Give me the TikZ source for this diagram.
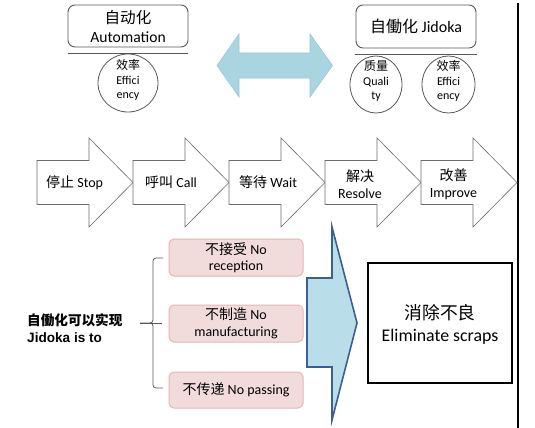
\documentclass[tikz,border=0pt]{standalone}
\usepackage{fontspec}
\setmainfont{Carlito}
\newfontfamily\cjk{Noto Sans CJK SC}
\newfontfamily\arialb{Liberation Sans}
\usetikzlibrary{shapes.geometric}
\newcommand{\zh}[1]{{\cjk #1}}
\definecolor{dblue}{HTML}{A9D5E1}
\definecolor{dblueline}{HTML}{98C8D6}
\definecolor{bigfill}{HTML}{B9DDE9}
\definecolor{bigline}{HTML}{3B6090}
\definecolor{pinkfill}{HTML}{F2DCDB}
\definecolor{pinkline}{HTML}{E2B6B5}
\definecolor{grayline}{HTML}{595959}
\begin{document}
\begin{tikzpicture}[x=1pt,y=-1pt,
  topbox/.style={draw=grayline, line width=0.9pt, rounded corners=7pt, inner sep=0pt, align=center},
  oval/.style={draw=grayline, line width=0.8pt, ellipse, inner sep=0pt},
  ovaltext/.style={align=center, inner sep=0pt, font=\fontsize{12}{14.5}\selectfont},
  blockarrow/.style={draw=gray!85!black, line width=0.6pt, fill=white},
  arrowtext/.style={inner sep=0pt, font=\fontsize{14}{17}\selectfont, align=center},
  pinkbox/.style={draw=pinkline, fill=pinkfill, line width=1pt, rounded corners=5pt, minimum width=134pt, inner sep=0pt, align=center, font=\fontsize{14}{16.5}\selectfont}
]
\useasboundingbox (0,0) rectangle (535,428);
\fill[white] (0,0) rectangle (535,428);

% top boxes
\node[topbox, minimum width=120pt, minimum height=42pt, font=\fontsize{15.6}{19}\selectfont] (auto) at (128,26) {\zh{自动化}\\Automation};
\node[topbox, minimum width=120pt, minimum height=43pt, font=\fontsize{16}{19}\selectfont] (jidoka) at (416,26.5) {\zh{自働化} Jidoka};
\draw[grayline, line width=0.9pt] (auto.south west) ++(0,6) coordinate (la) -- (auto.south east |- la);
\draw[grayline, line width=0.9pt] (jidoka.south west) ++(-1,6) coordinate (lb) -- ([xshift=1pt]jidoka.south east |- lb);

% ellipses
\node[oval, minimum width=60pt, minimum height=58pt] (eff1) at (128,83) {};
\node[ovaltext] (eff1t) at (128,80) {\zh{效率}\\Effici\\ency};
\node[oval, minimum width=52pt, minimum height=57pt] (qual) at (376,84.5) {};
\node[ovaltext] (qualt) at (376,81) {\zh{质量}\\Quali\\ty};
\node[oval, minimum width=53pt, minimum height=57pt] (eff2) at (448.5,84.5) {};
\node[ovaltext] (eff2t) at (448.5,81) {\zh{效率}\\Effici\\ency};

% double arrow
\filldraw[fill=dblue, draw=dblueline, line width=0.6pt]
  (217,65.5) -- (239,34) -- (239,53) -- (310,53) -- (310,34) -- (332.5,65.5)
  -- (310,97) -- (310,78) -- (239,78) -- (239,97) -- cycle;

% right vertical line
\draw[black, line width=1.1pt] (518,3) -- (518,428);

% process arrows
\foreach \k in {0,...,4}{
  \pgfmathsetmacro{\xo}{37+96*\k}
  \filldraw[blockarrow] (\xo,160.5) -- (\xo+52,160.5) -- (\xo+52,138) -- (\xo+96,182.5)
    -- (\xo+52,227) -- (\xo+52,204.5) -- (\xo,204.5) -- cycle;
}
\node[arrowtext, anchor=west] (stop) at (46,182.5) {\zh{停止} Stop};
\node[arrowtext, anchor=west] (call) at (145,182.5) {\zh{呼叫} Call};
\node[arrowtext, anchor=west] (wait) at (239,182.5) {\zh{等待} Wait};
\node[arrowtext, font=\fontsize{14}{17.5}\selectfont] (resolve) at (360,184) {\zh{解决}\\Resolve};
\node[arrowtext, font=\fontsize{14}{17.5}\selectfont] (improve) at (453.5,184) {\zh{改善}\\Improve};

% left label
\node[inner sep=0pt, align=left, anchor=west, font=\arialb\bfseries\fontsize{13.6}{17}\selectfont] (jlabel) at (27,328.5) {{\cjk\bfseries 自働化可以实现}\\Jidoka is to};

% pink boxes
\node[pinkbox, minimum height=37pt] (rec) at (236,257.5) {\zh{不接受} No\\reception};
\node[pinkbox, minimum height=37pt] (man) at (236,323.5) {\zh{不制造} No\\manufacturing};
\node[pinkbox, minimum height=36pt] (pass) at (236,390) {\zh{不传递} No passing};

% brace
\coordinate (btop) at (163,258);
\coordinate (bbot) at (163,388);
\coordinate (bmid) at (140,323);
\draw[grayline, line width=0.8pt] (btop) -- (156,258) to[out=180,in=90] (153,261) -- (153,320)
  to[out=-90,in=0] (150,323) -- (bmid);
\draw[grayline, line width=0.8pt] (bbot) -- (156,388) to[out=180,in=-90] (153,385) -- (153,326)
  to[out=90,in=0] (150,323);
\draw[grayline, line width=0.8pt] (bmid) -- (162,323);

% big arrow
\filldraw[fill=bigfill, draw=bigline, line width=1.6pt, line join=miter]
  (307,278) -- (332,278) -- (332,227) -- (357,323) -- (332,420) -- (332,367) -- (307,367) -- cycle;

% result box
\node[draw=black, line width=1.6pt, minimum width=144pt, minimum height=120pt, inner sep=0pt] (result) at (440,323) {};
\node[inner sep=0pt, align=center, font=\fontsize{17.8}{22}\selectfont] (resultt) at (440,324) {\zh{消除不良}\\Eliminate scraps};
\end{tikzpicture}
\end{document}
